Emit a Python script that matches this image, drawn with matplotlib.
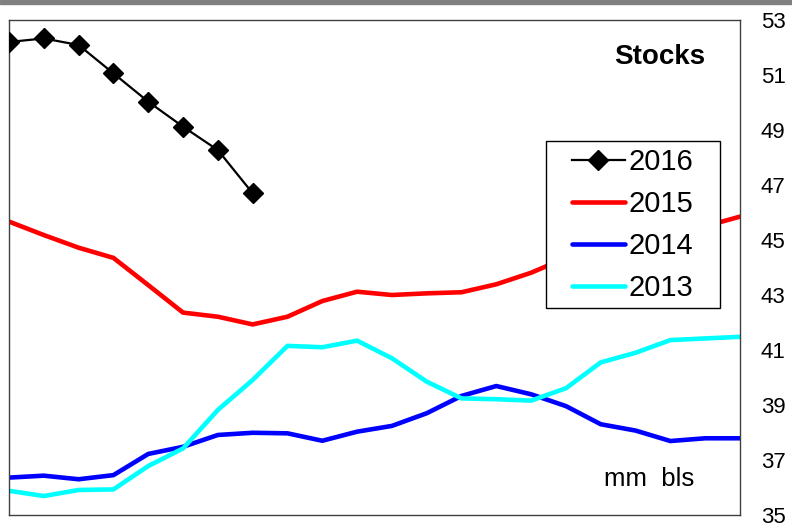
import matplotlib
matplotlib.use("Agg")
import matplotlib.pyplot as plt
from matplotlib.patches import Rectangle

plt.rcParams['font.family'] = ['Liberation Sans', 'DejaVu Sans']

weeks = list(range(22))
s2016 = [52.2, 52.33, 52.09, 51.06, 50.03, 49.12, 48.27, 46.70]
s2015 = [45.67, 45.18, 44.72, 44.35, 43.36, 42.36, 42.21, 41.93, 42.21, 42.78, 43.12,
         43.0, 43.06, 43.1, 43.39, 43.81, 44.35, 44.7, 45.0, 45.25, 45.5, 45.85]
s2014 = [36.36, 36.43, 36.30, 36.45, 37.22, 37.48, 37.91, 37.99, 37.97, 37.70, 38.03,
         38.24, 38.70, 39.33, 39.69, 39.39, 38.96, 38.30, 38.07, 37.69, 37.79, 37.79]
s2013 = [35.88, 35.69, 35.91, 35.93, 36.78, 37.42, 38.82, 39.91, 41.15, 41.10, 41.34,
         40.70, 39.85, 39.24, 39.21, 39.16, 39.61, 40.55, 40.90, 41.36, 41.42, 41.48]
yticks = list(range(35, 54, 2))

fig = plt.figure(figsize=(7.92, 5.24), dpi=100)
fig.patches.append(Rectangle((0, 1 - 4 / 524), 1, 4 / 524, transform=fig.transFigure,
                             color='#808080', zorder=0))
ax = fig.add_axes([9 / 792, 1 - 515 / 524, 731 / 792, 495 / 524])

ax.plot(weeks[:len(s2016)], s2016, color='black', lw=1.6, marker='D', ms=10,
        label='2016', zorder=5)
ax.plot(weeks, s2015, color='#ff0000', lw=3.3, label='2015', solid_capstyle='round')
ax.plot(weeks, s2014, color='#0000ff', lw=3.3, label='2014', solid_capstyle='round')
ax.plot(weeks, s2013, color='#00ffff', lw=3.3, label='2013', solid_capstyle='round')

ax.set_xlim(0, 21)
ax.set_ylim(35, 53)
ax.set_xticks([])
ax.yaxis.tick_right()
ax.set_yticks(yticks)
ax.tick_params(axis='y', length=0, pad=15)
for lbl in ax.get_yticklabels():
    lbl.set_fontfamily(['Liberation Sans Narrow', 'Liberation Sans'])
    lbl.set_fontsize(16)
for sp in ax.spines.values():
    sp.set_color('#404040')
    sp.set_linewidth(1)

# legend box
ax.add_patch(Rectangle((0.7346, 0.4182), 0.238, 0.3374, transform=ax.transAxes,
                       facecolor='white', edgecolor='black', lw=1, zorder=8))
leg = ax.legend(loc='upper left', bbox_to_anchor=(0.7702, 0.7414), borderaxespad=0,
                fontsize=21, frameon=False, handlelength=1.8, handletextpad=0.15,
                labelspacing=0.48, borderpad=0)
leg.set_zorder(10)

ax.text(0.952, 0.925, 'Stocks', transform=ax.transAxes, ha='right', va='center',
        fontsize=20, fontweight='bold')
ax.text(0.937, 0.072, 'mm  bls', transform=ax.transAxes, ha='right', va='center',
        fontsize=18.5)

fig.savefig('out.png', dpi=100)
